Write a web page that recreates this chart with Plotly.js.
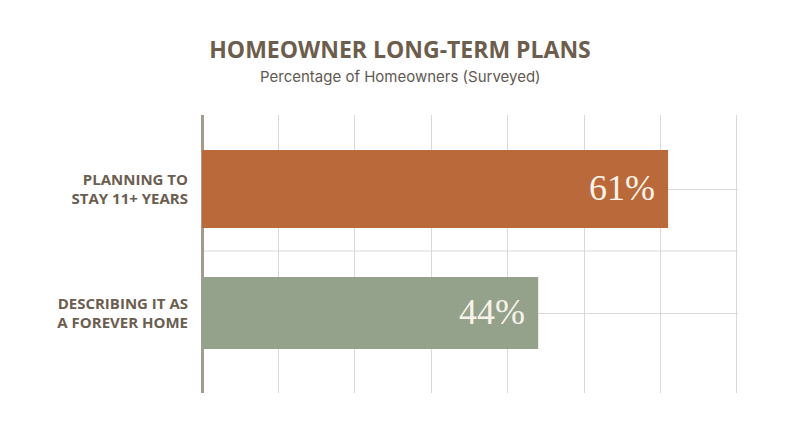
<!DOCTYPE html>
<html>
<head>
<meta charset="utf-8">
<script src="https://cdn.plot.ly/plotly-3.0.1.min.js"></script>
<style>
  html, body { margin: 0; padding: 0; background: #fff; }
  #chart { width: 800px; height: 447px; }
</style>
</head>
<body>
<div id="chart"></div>
<script>
// chart data
var categories = ['PLANNING TO<br>STAY 11+ YEARS', 'DESCRIBING IT AS<br>A FOREVER HOME'];
var values = [61, 44];
var labels = ['61%', '44%'];
var barColors = ['#b9693a', '#94a18b'];
var xTicks = [0, 10, 20, 30, 40, 50, 60, 70];

function drawPlans(div){

    var trace = {
        type: 'bar',
        orientation: 'h',
        x: values,
        y: categories,
        marker: { color: barColors, line: { width: 0 } },
        width: [0.63, 0.58],
        hoverinfo: 'none'
    };

    // value labels sit inside the bar end
    var notes = values.map(function(v, i){
        return {
            x: v, y: categories[i], xref: 'x', yref: 'y',
            text: labels[i], showarrow: false,
            xanchor: 'right', yanchor: 'middle', xshift: -11, yshift: 1,
            font: { family: 'Liberation Serif, serif', size: 36, color: '#f8f2e8' }
        };
    });

    // subtitle, placed in page pixels: centre x 400, y 76; plot area 202..738 / 115..393
    notes.push({
        xref: 'paper', yref: 'paper', x: (400 - 202) / 536, y: (393 - 76) / 278,
        text: 'Percentage of Homeowners (Surveyed)', showarrow: false,
        xanchor: 'center', yanchor: 'middle',
        font: { family: 'Inter, sans-serif', size: 15, color: '#5f5953' }
    });

    var layout = {
        width: 800,
        height: 447,
        paper_bgcolor: '#fff',
        plot_bgcolor: '#fff',
        showlegend: false,
        margin: { l: 202, r: 62, t: 115, b: 54 },
        title: {
            text: '<b>HOMEOWNER LONG-TERM PLANS</b>',
            xref: 'container', x: 0.5, xanchor: 'center',
            yref: 'container', y: 1 - 50 / 447, yanchor: 'middle',
            font: { family: 'Open Sans, sans-serif', size: 23, color: '#6d5d4c' }
        },
        xaxis: {
            range: [0, 70.15],
            tickvals: xTicks,
            showticklabels: false,
            ticks: '',
            showgrid: true,
            gridcolor: '#d9d9d9',
            gridwidth: 1,
            zeroline: true,
            zerolinecolor: '#a59a90',
            zerolinewidth: 3,
            fixedrange: true
        },
        yaxis: {
            type: 'category',
            categoryorder: 'array',
            categoryarray: categories,
            range: [1.645, -0.597],
            showgrid: true,
            gridcolor: '#d9d9d9',
            gridwidth: 1,
            ticks: '',
            ticklabelstandoff: 13,
            tickfont: { family: 'Open Sans, sans-serif', size: 15, color: '#6b5e50', weight: 700 },
            fixedrange: true
        },
        shapes: [{
            type: 'line', layer: 'below',
            xref: 'x', yref: 'y', x0: 0, x1: 70.15, y0: 0.5, y1: 0.5,
            line: { color: '#d9d9d9', width: 1 }
        }],
        annotations: notes
    };

    Plotly.newPlot(div, [trace], layout, { displayModeBar: false, staticPlot: true });
}

drawPlans('chart');
</script>
</body>
</html>
